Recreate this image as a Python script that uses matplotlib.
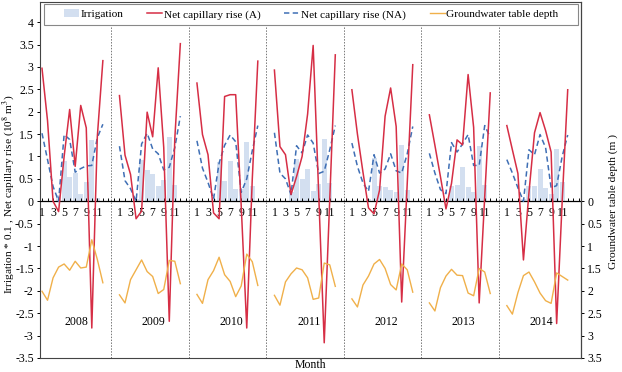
import numpy as np
import matplotlib
matplotlib.use("Agg")
import matplotlib.pyplot as plt
from matplotlib.patches import Patch, Rectangle
from matplotlib.lines import Line2D

plt.rcParams['font.family'] = ['Liberation Serif', 'DejaVu Serif']
plt.rcParams['axes.unicode_minus'] = False
plt.rcParams['mathtext.fontset'] = 'stix'

years = [2008, 2009, 2010, 2011, 2012, 2013, 2014]
months = list(range(1, 13))
month_labels = ['1', '', '3', '', '5', '', '7', '', '9', '', '11', '']

# Irrigation (10^8 m3), plotted as Irrigation * 0.1
irrigation = [
    [0, 0, 0, 1.5, 9.0, 5.5, 6.3, 1.6, 4.4, 13.7, 0.8, 0],
    [0, 0, 0, 0.5, 9.3, 6.9, 6.0, 3.4, 4.8, 14.3, 3.7, 0],
    [0, 0, 0, 0.5, 8.8, 4.5, 9.0, 2.8, 2.8, 13.3, 3.3, 0],
    [0, 0, 0, 2.0, 9.5, 5.0, 7.2, 2.2, 3.8, 14.0, 4.0, 0],
    [0, 0, 0, 0.5, 9.7, 3.5, 3.2, 2.5, 2.0, 12.5, 2.6, 0],
    [0, 0, 0, 0.5, 3.5, 3.7, 7.6, 3.2, 2.0, 12.4, 3.6, 0],
    [0, 0, 0, 0.5, 3.5, 3.5, 7.1, 3.0, 1.7, 11.7, 4.2, 0],
]
# Net capillary rise (A), 10^8 m3
rise_a = [
    [2.97, 1.80, 0.00, -0.23, 1.00, 2.05, 0.78, 2.14, 1.64, -2.83, 1.45, 3.14],
    [2.36, 1.03, 0.60, -0.39, -0.22, 1.99, 1.44, 2.98, 1.20, -2.68, 1.40, 3.52],
    [2.64, 1.49, 1.04, -0.26, -0.39, 2.34, 2.38, 2.38, -0.10, -2.83, 0.50, 3.13],
    [2.93, 1.22, 1.04, 0.15, 0.55, 1.00, 1.95, 3.48, 0.17, -3.16, 0.05, 3.27],
    [2.49, 1.50, 0.65, -0.15, -0.28, 0.25, 1.90, 2.53, 1.67, -2.25, 0.40, 3.05],
    [1.93, 1.25, 0.55, -0.17, 0.40, 1.37, 1.26, 2.83, 1.65, -2.27, 0.10, 2.42],
    [1.69, 1.15, 0.62, -1.31, 0.20, 1.53, 1.98, 1.58, 1.10, -2.73, 0.00, 2.49],
]
# Net capillary rise (NA), 10^8 m3
rise_na = [
    [1.52, 0.93, 0.33, 0.00, 1.49, 1.38, 0.65, 0.73, 0.79, 0.80, 1.42, 1.72],
    [1.23, 0.46, 0.28, 0.00, 1.28, 1.52, 1.17, 1.06, 0.70, 0.76, 1.20, 1.90],
    [1.35, 0.74, 0.42, 0.05, 0.85, 1.25, 1.48, 1.33, 0.20, 0.50, 1.13, 1.69],
    [1.53, 0.63, 0.50, 0.15, 1.24, 1.08, 1.48, 1.30, 0.62, 0.67, 1.15, 1.69],
    [1.30, 0.78, 0.41, 0.22, 1.04, 0.63, 0.72, 1.06, 0.68, 0.63, 1.06, 1.67],
    [1.07, 0.63, 0.26, 0.17, 1.31, 1.10, 1.28, 1.49, 0.80, 0.80, 1.69, 1.43],
    [0.93, 0.63, 0.30, 0.00, 1.15, 1.04, 1.49, 1.20, 0.30, 0.35, 1.00, 1.48],
]
# Groundwater table depth (m)
gw_depth = [
    [2.01, 2.21, 1.71, 1.47, 1.40, 1.54, 1.34, 1.49, 1.47, 0.86, 1.30, 1.82],
    [2.09, 2.27, 1.75, 1.53, 1.31, 1.57, 1.68, 2.06, 1.97, 1.32, 1.34, 1.84],
    [2.08, 2.28, 1.75, 1.55, 1.25, 1.64, 1.79, 2.13, 1.89, 1.18, 1.35, 1.88],
    [2.10, 2.32, 1.80, 1.62, 1.49, 1.53, 1.71, 2.19, 2.16, 1.38, 1.42, 1.90],
    [2.18, 2.36, 1.87, 1.67, 1.40, 1.30, 1.50, 1.86, 1.98, 1.40, 1.53, 2.03],
    [2.27, 2.45, 1.93, 1.67, 1.52, 1.65, 1.66, 2.05, 2.11, 1.50, 1.58, 2.06],
    [2.33, 2.52, 2.04, 1.66, 1.58, 1.80, 2.05, 2.22, 2.28, 1.60, 1.68, 1.76],
]
left_ticks = [-3.5, -3, -2.5, -2, -1.5, -1, -0.5, 0, 0.5, 1, 1.5, 2, 2.5, 3, 3.5, 4]
right_ticks = [0, 0.5, 1, 1.5, 2, 2.5, 3, 3.5]

SLOT = 14
c_bar = '#d3dff0'
c_a = '#d62e45'
c_na = '#3f6fb5'
c_gw = '#f0b04a'
fs = 8.5

fig = plt.figure(figsize=(6.22, 3.72), dpi=100)
ax = fig.add_axes([40/622, 14/372, 541/622, 356/372])
ax2 = ax.twinx()

for k, yr in enumerate(years):
    x = np.array(months) + SLOT * k
    ax.bar(x, np.array(irrigation[k]) * 0.1, width=0.9, color=c_bar, zorder=1)
    ax.plot(x, rise_na[k], color=c_na, lw=1.1, ls=(0, (3.5, 2.2)), zorder=3)
    ax.plot(x, rise_a[k], color=c_a, lw=1.1, zorder=4)
    ax2.plot(x, gw_depth[k], color=c_gw, lw=1.0, zorder=3)
    ax.text(SLOT * k + 7.2, -2.7, str(yr), ha='center', va='center', fontsize=fs)
    for m, lab in zip(months, month_labels):
        ax.text(SLOT * k + m, -0.27, lab, ha='center', va='center', fontsize=fs)
    if k < len(years) - 1:
        ax.axvline(SLOT * k + 13.5, color='#777777', lw=0.7, ls=(0, (1.5, 1.5)), zorder=2)

ax.set_xlim(0.64, 98.4)
ax.set_ylim(-3.5, 4.45)
ax2.set_ylim(3.5, -4.45)

# zero line with tick marks
ax.spines['bottom'].set_position(('data', 0))
ax.spines['bottom'].set_linewidth(0.9)
ax.set_xticks(np.arange(1, 99))
ax.set_xticklabels([])
ax.tick_params(axis='x', direction='in', length=2.5, width=0.7)
ax.spines['top'].set_color('#444444')
ax.spines['left'].set_color('#444444')

ax.set_yticks(left_ticks)
ax.set_yticklabels(['%g' % t for t in left_ticks], fontsize=fs)
ax.tick_params(axis='y', direction='out', length=2.5, width=0.7, pad=2)

ax2.set_yticks(right_ticks)
ax2.set_yticklabels(['%g' % t for t in right_ticks], fontsize=fs)
ax2.tick_params(axis='y', direction='out', length=2.5, width=0.7, pad=2)
for s in ['bottom', 'right']:
    ax2.spines[s].set_color('#444444')
ax2.spines['top'].set_visible(False)
ax2.spines['left'].set_visible(False)

ax.set_ylabel('Irrigation * 0.1 , Net capillary rise (10$^8$ m$^3$)', fontsize=8.2)
ax.yaxis.set_label_coords(-0.043, 0.46)
ax2.set_ylabel('Groundwater table depth (m )', fontsize=8.2)
ax2.yaxis.set_label_coords(1.05, 0.44)
fig.text((40 + 541 / 2) / 622, 7 / 372, 'Month', ha='center', va='center', fontsize=fs)

# legend frame
ax2.add_patch(Rectangle((4/541, 333/356), 534/541, 21/356, transform=ax2.transAxes,
                        facecolor='white', edgecolor='#888888', lw=0.8, zorder=9))
handles = [
    Patch(facecolor=c_bar, edgecolor='none'),
    Line2D([], [], color=c_a, lw=1.1),
    Line2D([], [], color=c_na, lw=1.1, ls=(0, (3.5, 2.2))),
    Line2D([], [], color=c_gw, lw=1.0),
]
labels = ['Irrigation', 'Net capillary rise (A)', 'Net capillary rise (NA)', 'Groundwater table depth']
leg = ax2.legend(handles, labels, ncol=4, loc='center',
                 bbox_to_anchor=(0.501, (358 - 14.5) / 356),
                 fontsize=8.1, frameon=False, columnspacing=2.15,
                 handlelength=1.35, handletextpad=0.1, borderaxespad=0, borderpad=0.2)
leg.set_zorder(10)

fig.savefig('out.png', dpi=100)
